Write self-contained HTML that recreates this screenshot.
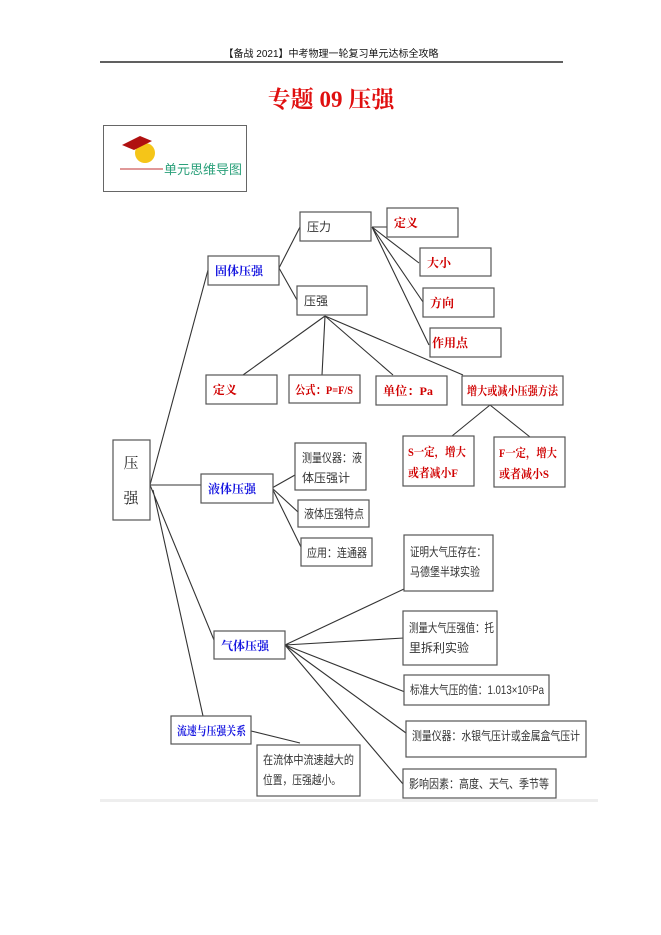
<!DOCTYPE html>
<html><head><meta charset="utf-8"><style>
html,body{margin:0;padding:0;background:#fff;}
svg{display:block;}
text{font-family:"Liberation Serif","Noto Serif CJK SC","Noto Sans CJK SC",serif;}
.b{fill:#fff;stroke:#555;stroke-width:1.2;}
.l{stroke:#333;stroke-width:1.1;fill:none;}
.r{fill:#d00000;font-weight:bold;font-size:12px;}
.u{fill:#1515e0;font-weight:bold;font-size:12px;}
.k{fill:#333;font-size:12px;font-family:"Liberation Sans","Noto Sans CJK SC",sans-serif;}
</style></head><body>
<svg width="661" height="935" viewBox="0 0 661 935" xmlns="http://www.w3.org/2000/svg">
<text x="331" y="57" text-anchor="middle" font-size="10" fill="#111" style="font-family:'Liberation Sans','Noto Sans CJK SC',sans-serif">【备战 2021】中考物理一轮复习单元达标全攻略</text>
<line x1="100" y1="62" x2="563" y2="62" stroke="#000" stroke-width="1.3"/>
<text x="331" y="107" text-anchor="middle" font-size="23" fill="#e01010" font-weight="bold">专题 09  压强</text>
<rect x="103.5" y="125.5" width="143" height="66" fill="#fff" stroke="#666" stroke-width="1"/>
<circle cx="145" cy="153" r="10" fill="#f5c518"/>
<polygon points="122,145 140,136 152,141 134,150" fill="#b01010"/>
<line x1="120" y1="169" x2="163" y2="169" stroke="#c03030" stroke-width="1"/>
<text x="164" y="174" font-size="13" fill="#2aa07a" style="font-family:'Liberation Sans','Noto Sans CJK SC',sans-serif">单元思维导图</text>

<path class="l" d="M150 485 L208 270 M150 485 L201 485 M150 485 L214 640 M153 490 L203 716
M279 268 L300 227 M279 268 L297 300
M372 227 L387 227 M372 227 L419 263 M372 227 L423 302 M372 227 L429 345
M325 316 L243 375 M325 316 L322 375 M325 316 L393 375 M325 316 L463 375
M490 405 L452 436 M490 405 L530 437
M272 488 L295 475 M272 488 L298 512 M272 488 L301 547
M285 645 L404 589 M285 645 L404 638 M285 645 L405 692 M285 645 L406 733 M285 645 L403 784
M251 731 L300 743"/>

<rect class="b" x="113" y="440" width="37" height="80"/>
<text x="131" y="468" text-anchor="middle" font-size="15" fill="#222">压</text>
<text x="131" y="503" text-anchor="middle" font-size="15" fill="#222">强</text>

<rect class="b" x="208" y="256" width="71" height="29"/><text class="u" x="215" y="275">固体压强</text>
<rect class="b" x="300" y="212" width="71" height="29"/><text class="k" x="307" y="231">压力</text>
<rect class="b" x="297" y="286" width="70" height="29"/><text class="k" x="304" y="305">压强</text>
<rect class="b" x="387" y="208" width="71" height="29"/><text class="r" x="394" y="227">定义</text>
<rect class="b" x="420" y="248" width="71" height="28"/><text class="r" x="427" y="267">大小</text>
<rect class="b" x="423" y="288" width="71" height="29"/><text class="r" x="430" y="307">方向</text>
<rect class="b" x="430" y="328" width="71" height="29"/><text class="r" x="432" y="347">作用点</text>

<rect class="b" x="206" y="375" width="71" height="29"/><text class="r" x="213" y="394">定义</text>
<rect class="b" x="289" y="375" width="71" height="28"/><text class="r" x="295" y="394" textLength="58" lengthAdjust="spacingAndGlyphs">公式：P=F/S</text>
<rect class="b" x="376" y="376" width="71" height="29"/><text class="r" x="383" y="395" textLength="50" lengthAdjust="spacingAndGlyphs">单位：Pa</text>
<rect class="b" x="462" y="376" width="101" height="29"/><text class="r" x="467" y="395" textLength="91" lengthAdjust="spacingAndGlyphs">增大或减小压强方法</text>
<rect class="b" x="403" y="436" width="71" height="50"/><text class="r" x="408" y="456" textLength="58" lengthAdjust="spacingAndGlyphs">S一定，增大</text><text class="r" x="408" y="477" textLength="50" lengthAdjust="spacingAndGlyphs">或者减小F</text>
<rect class="b" x="494" y="437" width="71" height="50"/><text class="r" x="499" y="457" textLength="58" lengthAdjust="spacingAndGlyphs">F一定，增大</text><text class="r" x="499" y="478" textLength="50" lengthAdjust="spacingAndGlyphs">或者减小S</text>

<rect class="b" x="201" y="474" width="72" height="29"/><text class="u" x="208" y="493">液体压强</text>
<rect class="b" x="295" y="443" width="71" height="47"/><text class="k" x="302" y="462" font-size="11" textLength="60" lengthAdjust="spacingAndGlyphs">测量仪器：液</text><text class="k" x="302" y="482" font-size="11">体压强计</text>
<rect class="b" x="298" y="500" width="71" height="27"/><text class="k" x="304" y="518" font-size="11" textLength="60" lengthAdjust="spacingAndGlyphs">液体压强特点</text>
<rect class="b" x="301" y="538" width="71" height="28"/><text class="k" x="307" y="557" font-size="11" textLength="60" lengthAdjust="spacingAndGlyphs">应用：连通器</text>

<rect class="b" x="214" y="631" width="71" height="28"/><text class="u" x="221" y="650">气体压强</text>
<rect class="b" x="404" y="535" width="89" height="56"/><text class="k" x="410" y="556" font-size="11" textLength="76" lengthAdjust="spacingAndGlyphs">证明大气压存在：</text><text class="k" x="410" y="576" font-size="11" textLength="70" lengthAdjust="spacingAndGlyphs">马德堡半球实验</text>
<rect class="b" x="403" y="611" width="94" height="54"/><text class="k" x="409" y="632" font-size="11" textLength="85" lengthAdjust="spacingAndGlyphs">测量大气压强值：托</text><text class="k" x="409" y="652" font-size="11">里拆利实验</text>
<rect class="b" x="404" y="675" width="145" height="30"/><text class="k" x="410" y="694" font-size="11" textLength="134" lengthAdjust="spacingAndGlyphs">标准大气压的值：1.013×10⁵Pa</text>
<rect class="b" x="406" y="721" width="180" height="36"/><text class="k" x="412" y="740" font-size="11" textLength="168" lengthAdjust="spacingAndGlyphs">测量仪器：水银气压计或金属盒气压计</text>
<rect class="b" x="403" y="769" width="153" height="29"/><text class="k" x="409" y="788" font-size="11" textLength="140" lengthAdjust="spacingAndGlyphs">影响因素：高度、天气、季节等</text>

<rect class="b" x="171" y="716" width="80" height="28"/><text class="u" x="177" y="735" textLength="69" lengthAdjust="spacingAndGlyphs">流速与压强关系</text>
<rect class="b" x="257" y="745" width="103" height="51"/><text class="k" x="263" y="764" font-size="11" textLength="91" lengthAdjust="spacingAndGlyphs">在流体中流速越大的</text><text class="k" x="263" y="784" font-size="11" textLength="78" lengthAdjust="spacingAndGlyphs">位置，压强越小。</text>

<rect x="100" y="799" width="498" height="3" fill="#eee"/>
</svg>
</body></html>
